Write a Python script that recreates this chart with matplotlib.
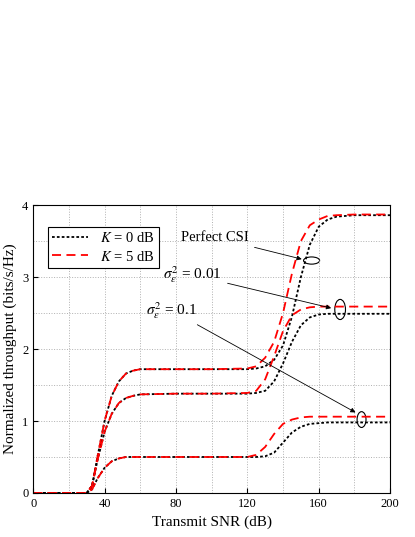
import matplotlib
matplotlib.use("Agg")
import matplotlib.pyplot as plt
from matplotlib.patches import Ellipse

plt.rcParams['font.family'] = ['Liberation Serif']
plt.rcParams['mathtext.fontset'] = 'stix'

x = [0, 30, 33, 36, 40, 44, 48, 52, 56, 60, 80, 100, 120, 125, 130, 135, 140, 145, 150, 155, 160, 165, 170, 180, 200]
pcsi_k0 = [0, 0, 0.1, 0.5, 1.0, 1.35, 1.55, 1.66, 1.70, 1.72, 1.72, 1.72, 1.72, 1.73, 1.76, 1.85, 2.05, 2.45, 3.0, 3.45, 3.7, 3.8, 3.84, 3.86, 3.86]
pcsi_k5 = [0, 0, 0.1, 0.5, 1.0, 1.35, 1.55, 1.66, 1.70, 1.72, 1.72, 1.72, 1.73, 1.76, 1.88, 2.1, 2.5, 3.05, 3.5, 3.72, 3.8, 3.85, 3.86, 3.87, 3.87]
s001_k0 = [0, 0, 0.1, 0.45, 0.85, 1.1, 1.25, 1.32, 1.35, 1.37, 1.38, 1.38, 1.38, 1.39, 1.42, 1.55, 1.8, 2.1, 2.33, 2.44, 2.48, 2.49, 2.49, 2.49, 2.49]
s001_k5 = [0, 0, 0.1, 0.45, 0.85, 1.1, 1.25, 1.32, 1.35, 1.37, 1.38, 1.38, 1.39, 1.42, 1.58, 1.9, 2.25, 2.47, 2.55, 2.58, 2.59, 2.59, 2.59, 2.59, 2.59]
s01_k0 = [0, 0, 0.05, 0.2, 0.35, 0.44, 0.48, 0.5, 0.5, 0.5, 0.5, 0.5, 0.5, 0.5, 0.51, 0.56, 0.7, 0.84, 0.92, 0.96, 0.97, 0.98, 0.98, 0.98, 0.98]
s01_k5 = [0, 0, 0.05, 0.2, 0.35, 0.44, 0.48, 0.5, 0.5, 0.5, 0.5, 0.5, 0.5, 0.53, 0.64, 0.82, 0.96, 1.02, 1.05, 1.06, 1.06, 1.06, 1.06, 1.06, 1.06]

fig = plt.figure(figsize=(4.15, 5.37), dpi=100)
ax = fig.add_axes([0.08, 0.082, 0.86, 0.536])

k0 = dict(color='black', ls=(0, (1.5, 1.2)), lw=1.3)
k5 = dict(color='red', ls=(0, (5, 3)), lw=1.3)
ax.plot(x, pcsi_k0, label='$K$ = 0 dB', **k0)
ax.plot(x, pcsi_k5, label='$K$ = 5 dB', **k5)
ax.plot(x, s001_k0, **k0)
ax.plot(x, s001_k5, **k5)
ax.plot(x, s01_k0, **k0)
ax.plot(x, s01_k5, **k5)

ax.set_xlim(0, 200)
ax.set_ylim(0, 4)
ax.set_xticks([0, 40, 80, 120, 160, 200])
ax.set_xticks(range(0, 201, 20), minor=True)
ax.set_yticks([0, 1, 2, 3, 4])
ax.set_yticks([0.5, 1.5, 2.5, 3.5], minor=True)
ax.grid(True, which='both', color='#b0b0b0', ls=':', lw=0.7)
ax.tick_params(direction='in', which='both', labelsize=9)
ax.tick_params(which='minor', length=0)
ax.set_xlabel('Transmit SNR (dB)', fontsize=11)
ax.set_ylabel('Normalized throughput (bits/s/Hz)', fontsize=11)

leg = ax.legend(loc='upper left', bbox_to_anchor=(0.02, 0.95), fontsize=10.5, fancybox=False,
                edgecolor='black', framealpha=1, handlelength=2.5, borderpad=0.3, labelspacing=0.3)
leg.get_frame().set_linewidth(0.8)

for c, w, h in [((156, 3.23), 9, 0.1), ((172, 2.55), 6, 0.28), ((184, 1.02), 5, 0.22)]:
    ax.add_patch(Ellipse(c, w, h, fill=False, color='black', lw=0.8))

ap = dict(arrowstyle='-|>', color='black', lw=0.6, mutation_scale=7)
ax.annotate('Perfect CSI', xy=(152, 3.24), xytext=(83, 3.55), fontsize=10.5, va='center', arrowprops=ap)
ax.annotate(r'$\sigma_\varepsilon^2$ = 0.01', xy=(168.5, 2.56), xytext=(73, 3.03), fontsize=11, va='center', arrowprops=ap)
ax.annotate(r'$\sigma_\varepsilon^2$ = 0.1', xy=(182, 1.1), xytext=(63, 2.54), fontsize=11, va='center', arrowprops=ap)

fig.savefig('out.png', dpi=100)
